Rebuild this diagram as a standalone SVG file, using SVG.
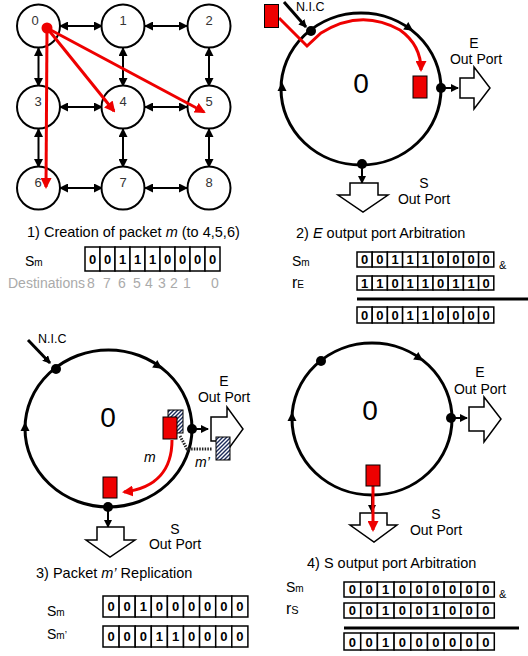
<svg xmlns="http://www.w3.org/2000/svg" width="528" height="656" viewBox="0 0 528 656">
<style>
text{font-family:"Liberation Sans",Arial,sans-serif;fill:#000}
.nd{fill:#fff;stroke:#000;stroke-width:2}
.nl{font-size:13px;fill:#333;text-anchor:middle}
.ba{stroke:#000;stroke-width:2;fill:none;marker-start:url(#ab);marker-end:url(#ab)}
.ra{stroke:#e00;stroke-width:3;fill:none;marker-end:url(#ar)}
.ring{fill:none;stroke:#000;stroke-width:3}
.dot{fill:#000}
.big{font-size:28px;text-anchor:middle}
.lb{font-size:14px;text-anchor:middle}
.port{fill:#fff;stroke:#000;stroke-width:1.5}
.sa{stroke:#000;stroke-width:2;marker-end:url(#as)}
.rb{fill:#e00;stroke:#000;stroke-width:1}
.hb{fill:url(#hatch);stroke:#000;stroke-width:1}
.cell{fill:#fff;stroke:#000;stroke-width:1.5}
.dg{font-size:13px;font-weight:bold;text-anchor:middle}
.tt{font-size:14.5px}
.it{font-style:italic}
.gr{fill:#aaa;font-size:14px}
.gd{fill:#aaa;font-size:14px;text-anchor:middle}
</style>
<defs>
<marker id="ab" markerUnits="userSpaceOnUse" markerWidth="9" markerHeight="9" refX="8" refY="4.5" orient="auto-start-reverse"><path d="M0,0 L9,4.5 L0,9 z" fill="#000"/></marker>
<marker id="as" markerUnits="userSpaceOnUse" markerWidth="8" markerHeight="8" refX="7" refY="4" orient="auto"><path d="M0,0 L8,4 L0,8 z" fill="#000"/></marker>
<marker id="ar" markerUnits="userSpaceOnUse" markerWidth="11" markerHeight="11" refX="9" refY="5.5" orient="auto"><path d="M0,0 L11,5.5 L0,11 z" fill="#e00"/></marker>
<path id="tri" d="M5,0 L-4,-4.5 L-4,4.5 z" fill="#000"/>
<pattern id="hatch" patternUnits="userSpaceOnUse" width="4" height="4">
<rect width="4" height="4" fill="#fff"/>
<path d="M0,4 L4,0 M-1,1 L1,-1 M3,5 L5,3" stroke="#1a2a5a" stroke-width="1.4"/>
</pattern>
</defs>

<!-- Panel 1: grid -->
<g id="connectors">
<line class="ba" x1="60" y1="26" x2="102" y2="26"/>
<line class="ba" x1="145" y1="26" x2="187" y2="26"/>
<line class="ba" x1="60" y1="107" x2="102" y2="107"/>
<line class="ba" x1="145" y1="107" x2="187" y2="107"/>
<line class="ba" x1="60" y1="188" x2="102" y2="188"/>
<line class="ba" x1="145" y1="188" x2="187" y2="188"/>
<line class="ba" x1="38.5" y1="48" x2="38.5" y2="86"/>
<line class="ba" x1="123" y1="48" x2="123" y2="86"/>
<line class="ba" x1="209" y1="48" x2="209" y2="86"/>
<line class="ba" x1="38.5" y1="129" x2="38.5" y2="167"/>
<line class="ba" x1="123" y1="129" x2="123" y2="167"/>
<line class="ba" x1="209" y1="129" x2="209" y2="167"/>
</g>
<g id="n0"><circle class="nd" cx="38.5" cy="26" r="21.5"/><text class="nl" x="35" y="25">0</text></g>
<g id="n1"><circle class="nd" cx="123" cy="26" r="21.5"/><text class="nl" x="123" y="25">1</text></g>
<g id="n2"><circle class="nd" cx="209" cy="26" r="21.5"/><text class="nl" x="209" y="25">2</text></g>
<g id="n3"><circle class="nd" cx="38.5" cy="107" r="21.5"/><text class="nl" x="38" y="106">3</text></g>
<g id="n4"><circle class="nd" cx="123" cy="107" r="21.5"/><text class="nl" x="123" y="106">4</text></g>
<g id="n5"><circle class="nd" cx="209" cy="107" r="21.5"/><text class="nl" x="209" y="106">5</text></g>
<g id="n6"><circle class="nd" cx="38.5" cy="188" r="21.5"/><text class="nl" x="38" y="187">6</text></g>
<g id="n7"><circle class="nd" cx="123" cy="188" r="21.5"/><text class="nl" x="123" y="187">7</text></g>
<g id="n8"><circle class="nd" cx="209" cy="188" r="21.5"/><text class="nl" x="209" y="187">8</text></g>
<g id="multicast">
<line class="ra" x1="47" y1="28" x2="114" y2="111"/>
<line class="ra" x1="47" y1="28" x2="204" y2="112"/>
<line class="ra" x1="47" y1="28" x2="46" y2="187"/>
<circle cx="47" cy="28" r="5.5" fill="#e00"/>
</g>

<g id="step1">
<text class="tt" x="27" y="237">1)  Creation of packet  <tspan class="it">m</tspan> (to 4,5,6)</text>
<text x="25" y="266" font-size="14">S<tspan font-size="10">m</tspan></text>
<rect class="cell" x="85" y="247" width="15" height="24"/><rect class="cell" x="100" y="247" width="15" height="24"/><rect class="cell" x="115" y="247" width="15" height="24"/><rect class="cell" x="130" y="247" width="15" height="24"/><rect class="cell" x="145" y="247" width="15" height="24"/><rect class="cell" x="160" y="247" width="15" height="24"/><rect class="cell" x="175" y="247" width="15" height="24"/><rect class="cell" x="190" y="247" width="15" height="24"/><rect class="cell" x="205" y="247" width="15" height="24"/>
<text class="dg" y="264"><tspan x="92.5">0</tspan><tspan x="107.5">0</tspan><tspan x="122.5">1</tspan><tspan x="137.5">1</tspan><tspan x="152.5">1</tspan><tspan x="167.5">0</tspan><tspan x="182.5">0</tspan><tspan x="197.5">0</tspan><tspan x="212.5">0</tspan></text>
<text class="gr" x="8" y="288">Destinations</text>
<text class="gd" y="288"><tspan x="91">8</tspan><tspan x="107">7</tspan><tspan x="122">6</tspan><tspan x="137">5</tspan><tspan x="149">4</tspan><tspan x="162">3</tspan><tspan x="174">2</tspan><tspan x="187">1</tspan><tspan x="215">0</tspan></text>
</g>

<!-- Panel 2 -->
<g id="router2">
<ellipse class="ring" cx="361" cy="89" rx="80" ry="76"/>
<use href="#tri" transform="translate(409,28) rotate(35)"/>
<use href="#tri" transform="translate(282,87) rotate(-90)"/>
<text class="big" x="361" y="93">0</text>
<line class="sa" x1="441" y1="88" x2="458" y2="88"/>
<path class="port" d="M460,78 L474,78 L474,67 L490,88 L474,109 L474,98 L460,98 Z"/>
<line class="sa" x1="362" y1="164" x2="362" y2="183"/>
<path class="port" d="M350,183 L378,183 L378,195 L388,195 L363,212 L338,195 L350,195 Z"/>
<text class="lb" x="474" y="48">E</text><text class="lb" x="476" y="64">Out Port</text>
<text class="lb" x="424" y="188">S</text><text class="lb" x="424" y="204">Out Port</text>
<text x="296" y="11" font-size="12.5">N.I.C</text>
<path d="M279,18 L307,46 L321,33 Q361,8 400,30 Q421,45 421,70" class="ra"/>
<rect class="rb" x="264.5" y="4.5" width="14" height="23"/>
<rect class="rb" x="413" y="76" width="14" height="22"/>
<line x1="284" y1="2" x2="306" y2="27" stroke="#000" stroke-width="3" marker-end="url(#as)"/>
<circle class="dot" cx="311" cy="31" r="5"/>
<circle class="dot" cx="441" cy="88" r="5"/>
<circle class="dot" cx="362" cy="164" r="5"/>
</g>

<g id="step2">
<text class="tt" x="296" y="238">2)  <tspan class="it">E</tspan> output port Arbitration</text>
<text x="292" y="266" font-size="14">S<tspan font-size="10">m</tspan></text>
<text x="292" y="288" font-size="16">r<tspan font-size="10">E</tspan></text>
<g>
<rect class="cell" x="357" y="252" width="15.2" height="15"/><rect class="cell" x="372.2" y="252" width="15.2" height="15"/><rect class="cell" x="387.4" y="252" width="15.2" height="15"/><rect class="cell" x="402.6" y="252" width="15.2" height="15"/><rect class="cell" x="417.8" y="252" width="15.2" height="15"/><rect class="cell" x="433" y="252" width="15.2" height="15"/><rect class="cell" x="448.2" y="252" width="15.2" height="15"/><rect class="cell" x="463.4" y="252" width="15.2" height="15"/><rect class="cell" x="478.6" y="252" width="15.2" height="15"/>
<text class="dg" y="264"><tspan x="364.6">0</tspan><tspan x="379.8">0</tspan><tspan x="395">1</tspan><tspan x="410.2">1</tspan><tspan x="425.4">1</tspan><tspan x="440.6">0</tspan><tspan x="455.8">0</tspan><tspan x="471">0</tspan><tspan x="486.2">0</tspan></text>
<rect class="cell" x="357" y="276" width="15.2" height="14"/><rect class="cell" x="372.2" y="276" width="15.2" height="14"/><rect class="cell" x="387.4" y="276" width="15.2" height="14"/><rect class="cell" x="402.6" y="276" width="15.2" height="14"/><rect class="cell" x="417.8" y="276" width="15.2" height="14"/><rect class="cell" x="433" y="276" width="15.2" height="14"/><rect class="cell" x="448.2" y="276" width="15.2" height="14"/><rect class="cell" x="463.4" y="276" width="15.2" height="14"/><rect class="cell" x="478.6" y="276" width="15.2" height="14"/>
<text class="dg" y="287.5"><tspan x="364.6">1</tspan><tspan x="379.8">1</tspan><tspan x="395">0</tspan><tspan x="410.2">1</tspan><tspan x="425.4">1</tspan><tspan x="440.6">0</tspan><tspan x="455.8">1</tspan><tspan x="471">1</tspan><tspan x="486.2">0</tspan></text>
<line x1="357" y1="299" x2="528" y2="299" stroke="#000" stroke-width="3"/>
<rect class="cell" x="357" y="307" width="15.2" height="16"/><rect class="cell" x="372.2" y="307" width="15.2" height="16"/><rect class="cell" x="387.4" y="307" width="15.2" height="16"/><rect class="cell" x="402.6" y="307" width="15.2" height="16"/><rect class="cell" x="417.8" y="307" width="15.2" height="16"/><rect class="cell" x="433" y="307" width="15.2" height="16"/><rect class="cell" x="448.2" y="307" width="15.2" height="16"/><rect class="cell" x="463.4" y="307" width="15.2" height="16"/><rect class="cell" x="478.6" y="307" width="15.2" height="16"/>
<text class="dg" y="320"><tspan x="364.6">0</tspan><tspan x="379.8">0</tspan><tspan x="395">0</tspan><tspan x="410.2">1</tspan><tspan x="425.4">1</tspan><tspan x="440.6">0</tspan><tspan x="455.8">0</tspan><tspan x="471">0</tspan><tspan x="486.2">0</tspan></text>
<text x="499" y="269" font-size="11">&amp;</text>
</g>
</g>

<!-- Panel 3 -->
<g id="router3">
<ellipse class="ring" cx="108.5" cy="428.5" rx="83.5" ry="78.5"/>
<use href="#tri" transform="translate(158,366) rotate(35)"/>
<use href="#tri" transform="translate(25,427) rotate(-90)"/>
<text class="big" x="108" y="427">0</text>
<text x="38" y="343" font-size="12.5">N.I.C</text>
<line x1="28" y1="340" x2="50" y2="363" stroke="#000" stroke-width="3" marker-end="url(#as)"/>
<line class="sa" x1="192" y1="429" x2="208" y2="429"/>
<path class="port" d="M211,417 L227,417 L227,407 L243,429 L227,451 L227,441 L211,441 Z"/>
<line class="sa" x1="108" y1="507" x2="108" y2="527"/>
<path class="port" d="M97,527 L124,527 L124,540 L135,540 L110,557 L86,540 L97,540 Z"/>
<text class="lb" x="224" y="386">E</text><text class="lb" x="224" y="402">Out Port</text>
<text class="lb" x="175" y="534">S</text><text class="lb" x="175" y="549">Out Port</text>
<rect class="hb" x="168" y="410" width="15" height="23"/>
<rect class="rb" x="163" y="417" width="14" height="22"/>
<rect class="hb" x="216" y="437" width="14" height="23"/>
<path d="M180,436 L187,449 L212,449" fill="none" stroke="#222" stroke-width="3" stroke-dasharray="1.5,1.2"/>
<path class="ra" d="M172,440 C172,468 158,488 124,492"/>
<rect class="rb" x="103" y="477" width="14" height="21"/>
<text x="144" y="462" font-size="14" class="it">m</text>
<text x="195" y="467" font-size="14" class="it">m’</text>
<circle class="dot" cx="56" cy="369" r="5"/>
<circle class="dot" cx="192" cy="429" r="5"/>
<circle class="dot" cx="108" cy="507" r="5"/>
</g>

<g id="step3">
<text class="tt" x="36" y="578">3)  Packet <tspan class="it">m’</tspan> Replication</text>
<text x="47" y="616" font-size="14">S<tspan font-size="10">m</tspan></text>
<text x="47" y="639" font-size="14">S<tspan font-size="10">m’</tspan></text>
<rect class="cell" x="103" y="596" width="16.1" height="21"/><rect class="cell" x="119.1" y="596" width="16.1" height="21"/><rect class="cell" x="135.2" y="596" width="16.1" height="21"/><rect class="cell" x="151.3" y="596" width="16.1" height="21"/><rect class="cell" x="167.4" y="596" width="16.1" height="21"/><rect class="cell" x="183.5" y="596" width="16.1" height="21"/><rect class="cell" x="199.6" y="596" width="16.1" height="21"/><rect class="cell" x="215.7" y="596" width="16.1" height="21"/><rect class="cell" x="231.8" y="596" width="16.1" height="21"/>
<text class="dg" y="611"><tspan x="111">0</tspan><tspan x="127.2">0</tspan><tspan x="143.3">1</tspan><tspan x="159.4">0</tspan><tspan x="175.5">0</tspan><tspan x="191.6">0</tspan><tspan x="207.7">0</tspan><tspan x="223.8">0</tspan><tspan x="239.9">0</tspan></text>
<rect class="cell" x="103" y="626" width="16.1" height="21"/><rect class="cell" x="119.1" y="626" width="16.1" height="21"/><rect class="cell" x="135.2" y="626" width="16.1" height="21"/><rect class="cell" x="151.3" y="626" width="16.1" height="21"/><rect class="cell" x="167.4" y="626" width="16.1" height="21"/><rect class="cell" x="183.5" y="626" width="16.1" height="21"/><rect class="cell" x="199.6" y="626" width="16.1" height="21"/><rect class="cell" x="215.7" y="626" width="16.1" height="21"/><rect class="cell" x="231.8" y="626" width="16.1" height="21"/>
<text class="dg" y="641"><tspan x="111">0</tspan><tspan x="127.2">0</tspan><tspan x="143.3">0</tspan><tspan x="159.4">1</tspan><tspan x="175.5">1</tspan><tspan x="191.6">0</tspan><tspan x="207.7">0</tspan><tspan x="223.8">0</tspan><tspan x="239.9">0</tspan></text>
</g>

<!-- Panel 4 -->
<g id="router4">
<ellipse class="ring" cx="372" cy="419" rx="80" ry="76"/>
<use href="#tri" transform="translate(419,358) rotate(35)"/>
<use href="#tri" transform="translate(292,417) rotate(-90)"/>
<text class="big" x="370" y="420">0</text>
<line class="sa" x1="451" y1="418" x2="467" y2="418"/>
<path class="port" d="M469,407 L484,407 L484,397 L501,419 L484,442 L484,431 L469,431 Z"/>
<line class="sa" x1="372" y1="495" x2="372" y2="512"/>
<path class="port" d="M360,513 L387,513 L387,525 L397,525 L374,542 L350,525 L360,525 Z"/>
<text class="lb" x="480" y="377">E</text><text class="lb" x="480" y="394">Out Port</text>
<text class="lb" x="436" y="519">S</text><text class="lb" x="436" y="535">Out Port</text>
<circle class="dot" cx="321" cy="361" r="5"/>
<circle class="dot" cx="451" cy="418" r="5"/>
<line class="ra" x1="373" y1="486" x2="373" y2="530"/>
<rect class="rb" x="366" y="465" width="14" height="21"/>
</g>

<g id="step4">
<text class="tt" x="307" y="568">4)  S output port Arbitration</text>
<text x="286" y="592" font-size="14">S<tspan font-size="10">m</tspan></text>
<text x="286" y="614" font-size="16">r<tspan font-size="11">S</tspan></text>
<rect class="cell" x="344" y="582" width="16.7" height="15"/><rect class="cell" x="360.7" y="582" width="16.7" height="15"/><rect class="cell" x="377.4" y="582" width="16.7" height="15"/><rect class="cell" x="394.1" y="582" width="16.7" height="15"/><rect class="cell" x="410.8" y="582" width="16.7" height="15"/><rect class="cell" x="427.5" y="582" width="16.7" height="15"/><rect class="cell" x="444.2" y="582" width="16.7" height="15"/><rect class="cell" x="460.9" y="582" width="16.7" height="15"/><rect class="cell" x="477.6" y="582" width="16.7" height="15"/>
<text class="dg" y="594"><tspan x="352.3">0</tspan><tspan x="369">0</tspan><tspan x="385.7">1</tspan><tspan x="402.4">0</tspan><tspan x="419.1">0</tspan><tspan x="435.8">0</tspan><tspan x="452.5">0</tspan><tspan x="469.2">0</tspan><tspan x="485.9">0</tspan></text>
<rect class="cell" x="344" y="603" width="16.7" height="15"/><rect class="cell" x="360.7" y="603" width="16.7" height="15"/><rect class="cell" x="377.4" y="603" width="16.7" height="15"/><rect class="cell" x="394.1" y="603" width="16.7" height="15"/><rect class="cell" x="410.8" y="603" width="16.7" height="15"/><rect class="cell" x="427.5" y="603" width="16.7" height="15"/><rect class="cell" x="444.2" y="603" width="16.7" height="15"/><rect class="cell" x="460.9" y="603" width="16.7" height="15"/><rect class="cell" x="477.6" y="603" width="16.7" height="15"/>
<text class="dg" y="615"><tspan x="352.3">0</tspan><tspan x="369">0</tspan><tspan x="385.7">1</tspan><tspan x="402.4">0</tspan><tspan x="419.1">0</tspan><tspan x="435.8">1</tspan><tspan x="452.5">0</tspan><tspan x="469.2">0</tspan><tspan x="485.9">0</tspan></text>
<line x1="344" y1="628" x2="519" y2="628" stroke="#000" stroke-width="3"/>
<rect class="cell" x="344" y="633" width="16.7" height="17"/><rect class="cell" x="360.7" y="633" width="16.7" height="17"/><rect class="cell" x="377.4" y="633" width="16.7" height="17"/><rect class="cell" x="394.1" y="633" width="16.7" height="17"/><rect class="cell" x="410.8" y="633" width="16.7" height="17"/><rect class="cell" x="427.5" y="633" width="16.7" height="17"/><rect class="cell" x="444.2" y="633" width="16.7" height="17"/><rect class="cell" x="460.9" y="633" width="16.7" height="17"/><rect class="cell" x="477.6" y="633" width="16.7" height="17"/>
<text class="dg" y="646.5"><tspan x="352.3">0</tspan><tspan x="369">0</tspan><tspan x="385.7">1</tspan><tspan x="402.4">0</tspan><tspan x="419.1">0</tspan><tspan x="435.8">0</tspan><tspan x="452.5">0</tspan><tspan x="469.2">0</tspan><tspan x="485.9">0</tspan></text>
<text x="499" y="598" font-size="11">&amp;</text>
</g>
</svg>
